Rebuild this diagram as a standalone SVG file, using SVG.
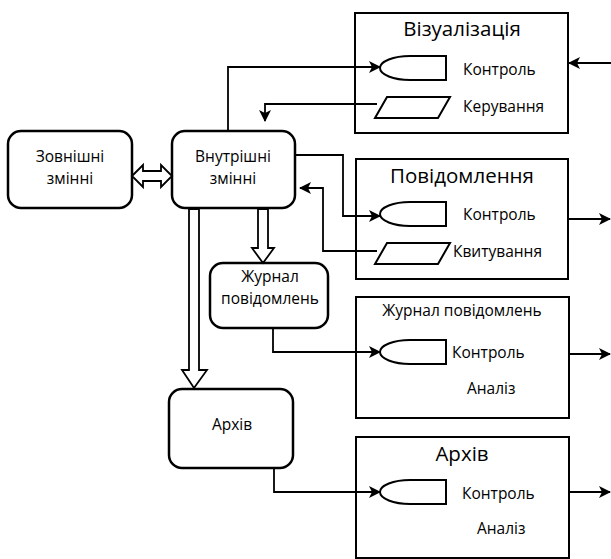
<svg xmlns="http://www.w3.org/2000/svg" width="611" height="559" viewBox="0 0 611 559">
<defs>
<marker id="ah" viewBox="0 0 12 12" refX="11" refY="6" markerWidth="12" markerHeight="12" markerUnits="userSpaceOnUse" orient="auto">
<path d="M0,0 L12,6 L0,12 L3,6 z" fill="#000"/>
</marker>
<path id="ctl" d="M30,0 H66 V24 H30 A30,12 0 0 1 30,0 z"/>
<path id="par" d="M12,0 H75 L63,21 H0 z"/>
</defs>
<style>
.node{fill:#fff;stroke:#000;stroke-width:2.5}
.box{fill:#fff;stroke:#000;stroke-width:2}
.shp{fill:#fff;stroke:#000;stroke-width:2}
.ln{fill:none;stroke:#000;stroke-width:1.8;marker-end:url(#ah)}
.hol{fill:#fff;stroke:#000;stroke-width:1.8}
text{font-family:"Open Sans","Liberation Sans",sans-serif;fill:#000}
.t{font-size:15.5px}
.c{text-anchor:middle}
.h{font-size:20.5px;text-anchor:middle}
</style>
<g id="zovnishni">
<rect class="node" x="8" y="131" width="124" height="77" rx="13"/>
<text class="t c" x="70" y="162">Зовнішні</text>
<text class="t c" x="70" y="184">змінні</text>
</g>
<g id="vnutrishni">
<rect class="node" x="172" y="131" width="123" height="77" rx="13"/>
<text class="t c" x="233" y="162">Внутрішні</text>
<text class="t c" x="233" y="184">змінні</text>
</g>
<g id="zhurnal-node">
<rect class="node" x="210" y="263" width="118" height="65" rx="13"/>
<text class="t c" x="270" y="282">Журнал</text>
<text class="t c" x="270" y="304">повідомлень</text>
</g>
<g id="arkhiv-node">
<rect class="node" x="169" y="389" width="124" height="79" rx="13"/>
<text class="t c" x="232" y="430">Архів</text>
</g>
<g id="vizualizatsiia">
<rect class="box" x="355" y="13" width="213" height="120"/>
<text class="h" x="462" y="36">Візуалізація</text>
<use href="#ctl" class="shp" x="380" y="56"/>
<text class="t" x="463" y="75">Контроль</text>
<use href="#par" class="shp" x="375" y="97"/>
<text class="t" x="463" y="112">Керування</text>
</g>
<g id="povidomlennia">
<rect class="box" x="356" y="159" width="212" height="120"/>
<text class="h" x="462" y="183">Повідомлення</text>
<use href="#ctl" class="shp" x="380" y="202"/>
<text class="t" x="463" y="220">Контроль</text>
<use href="#par" class="shp" x="375" y="243"/>
<text class="t" x="453" y="257">Квитування</text>
</g>
<g id="zhurnal-box">
<rect class="box" x="356" y="297" width="213" height="121"/>
<text class="t c" x="462" y="316">Журнал повідомлень</text>
<use href="#ctl" class="shp" x="380" y="340"/>
<text class="t" x="452" y="358">Контроль</text>
<text class="t" x="467" y="394">Аналіз</text>
</g>
<g id="arkhiv-box">
<rect class="box" x="356" y="437" width="213" height="121"/>
<text class="h" x="462" y="461">Архів</text>
<use href="#ctl" class="shp" x="380" y="480"/>
<text class="t" x="462" y="499">Контроль</text>
<text class="t" x="477" y="534">Аналіз</text>
</g>
<g id="connectors">
<path class="ln" d="M228,131 V67 H380"/>
<path class="ln" d="M377,104 H265 V121"/>
<path class="ln" d="M611,63 H569"/>
<path class="ln" d="M295,155 H343 V216 H380"/>
<path class="ln" d="M377,251 H323 V188 H300"/>
<path class="ln" d="M568,219 H610"/>
<path class="ln" d="M273,328 V352 H380"/>
<path class="ln" d="M569,354 H610"/>
<path class="ln" d="M274,468 V492 H380"/>
<path class="ln" d="M569,492 H610"/>
<path class="hol" d="M132,176 L143,165 V171 H161 V165 L172,176 L161,187 V181 H143 V187 z"/>
<path class="hol" d="M258,209 H268 V248 H274 L263,263 L252,248 H258 z"/>
<path class="hol" d="M189,209 H199 V370 H207 L194,388 L182,370 H189 z"/>
</g>
</svg>
